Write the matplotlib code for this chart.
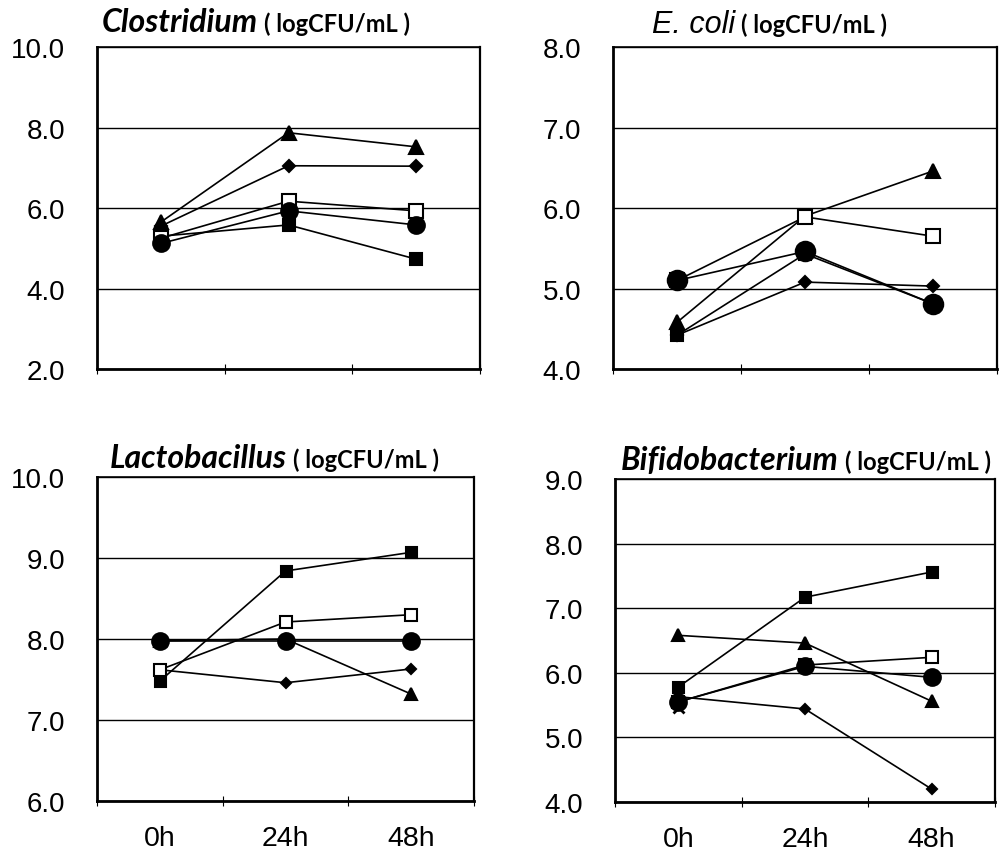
import numpy as np
import matplotlib
matplotlib.use("Agg")
import matplotlib.pyplot as plt

times = ["0h", "24h", "48h"]
nan = np.nan

# Clostridium
clos_triangle = [5.65, 7.87, 7.52]
clos_diamond = [5.55, 7.05, 7.04]
clos_open_sq = [5.25, 6.17, 5.93]
clos_circle = [5.12, 5.93, 5.58]
clos_filled_sq = [5.30, 5.58, 4.73]
clos_cross = [nan, nan, nan]

# E. coli
ecoli_triangle = [4.58, 5.90, 6.46]
ecoli_diamond = [4.42, 5.08, 5.03]
ecoli_open_sq = [5.10, 5.89, 5.65]
ecoli_circle = [5.10, 5.46, 4.81]
ecoli_filled_sq = [4.42, 5.43, 4.81]
ecoli_cross = [nan, nan, nan]

# Lactobacillus
lacto_triangle = [7.98, 8.00, 7.32]
lacto_diamond = [7.62, 7.46, 7.63]
lacto_open_sq = [7.62, 8.21, 8.30]
lacto_circle = [7.98, 7.98, 7.98]
lacto_filled_sq = [7.48, 8.84, 9.07]
lacto_cross = [nan, nan, nan]

# Bifidobacterium
bifi_triangle = [6.58, 6.46, 5.56]
bifi_diamond = [5.63, 5.44, 4.20]
bifi_open_sq = [5.55, 6.12, 6.24]
bifi_circle = [5.55, 6.10, 5.93]
bifi_filled_sq = [5.78, 7.17, 7.56]
bifi_cross = [5.47, nan, nan]

panels = [
    dict(genus="Clostridium", gfont="Lato", gweight="bold", gsize=23, yticks=[2, 4, 6, 8, 10],
         ylabels=["2.0", "4.0", "6.0", "8.0", "10.0"],
         rect=[0.097, 0.5662, 0.383, 0.3775], xlab=False, title_xy=(0.102, 0.9625),
         msc=1.0, circ=12,
         data=[clos_triangle, clos_filled_sq, clos_diamond, clos_open_sq, clos_circle, clos_cross]),
    dict(genus="E. coli", gfont="Liberation Sans", gweight="normal", gsize=22, yticks=[4, 5, 6, 7, 8],
         ylabels=["4.0", "5.0", "6.0", "7.0", "8.0"],
         rect=[0.613, 0.5662, 0.384, 0.3775], xlab=False, title_xy=(0.652, 0.961),
         msc=1.0, circ=14,
         data=[ecoli_triangle, ecoli_filled_sq, ecoli_diamond, ecoli_open_sq, ecoli_circle, ecoli_cross]),
    dict(genus="Lactobacillus", gfont="Lato", gweight="bold", gsize=23, yticks=[6, 7, 8, 9, 10],
         ylabels=["6.0", "7.0", "8.0", "9.0", "10.0"],
         rect=[0.097, 0.0598, 0.377, 0.3798], xlab=True, title_xy=(0.110, 0.451),
         msc=0.88, circ=12,
         data=[lacto_triangle, lacto_filled_sq, lacto_diamond, lacto_open_sq, lacto_circle, lacto_cross]),
    dict(genus="Bifidobacterium", gfont="Lato", gweight="bold", gsize=23, yticks=[4, 5, 6, 7, 8, 9],
         ylabels=["4.0", "5.0", "6.0", "7.0", "8.0", "9.0"],
         rect=[0.615, 0.0586, 0.380, 0.3787], xlab=True, title_xy=(0.621, 0.449),
         msc=0.88, circ=12,
         data=[bifi_triangle, bifi_filled_sq, bifi_diamond, bifi_open_sq, bifi_circle, bifi_cross]),
]

styles = [
    dict(marker="^", ms=10, mfc="black"),
    dict(marker="s", ms=9, mfc="black"),
    dict(marker="D", ms=6, mfc="black"),
    dict(marker="s", ms=9.5, mfc="white"),
    dict(marker="o", ms=None, mfc="black"),
    dict(marker="x", ms=9, mfc="black"),
]

fig = plt.figure(figsize=(10, 8.53), dpi=100)
x = np.arange(len(times))

for p in panels:
    ax = fig.add_axes(p["rect"])
    for vals, st in zip(p["data"], styles):
        ms = p["circ"] if st["ms"] is None else st["ms"] * p["msc"]
        ax.plot(x, vals, color="black", lw=1.2, marker=st["marker"], ms=ms,
                mfc=st["mfc"], mec="black", mew=1.5 if st["marker"] != "x" else 2.0, zorder=3)
    ax.set_xlim(-0.5, 2.5)
    ax.set_ylim(p["yticks"][0], p["yticks"][-1])
    ax.set_yticks(p["yticks"])
    ax.set_yticklabels(p["ylabels"], fontsize=20, family="Liberation Sans")
    ax.tick_params(axis="y", length=0, pad=23)
    ax.set_xticks(x)
    if p["xlab"]:
        ax.set_xticklabels(times, fontsize=20.5, family="Liberation Sans")
    else:
        ax.set_xticklabels([])
    ax.tick_params(axis="x", length=0, pad=17)
    ax.set_xticks([-0.5, 0.5, 1.5, 2.5], minor=True)
    ax.tick_params(axis="x", which="minor", direction="inout", length=7, width=0.8)
    ax.grid(axis="y", color="black", lw=1.0)
    ax.set_axisbelow(True)
    for side, lw in [("left", 2.0), ("bottom", 2.0), ("right", 1.6), ("top", 1.2)]:
        ax.spines[side].set_linewidth(lw)
        ax.spines[side].set_color("black")
    # title
    tx, ty = p["title_xy"]
    t = fig.text(tx, ty, p["genus"], fontsize=p["gsize"], style="italic", weight=p["gweight"],
                 family=p["gfont"], ha="left", va="baseline")
    fig.canvas.draw()
    bb = t.get_window_extent(renderer=fig.canvas.get_renderer())
    fig.text(bb.x1 / fig.bbox.width + 0.006, ty, "( logCFU/mL )", fontsize=17,
             weight="bold", family="Lato", ha="left", va="baseline")

fig.savefig("out.png", dpi=100)
